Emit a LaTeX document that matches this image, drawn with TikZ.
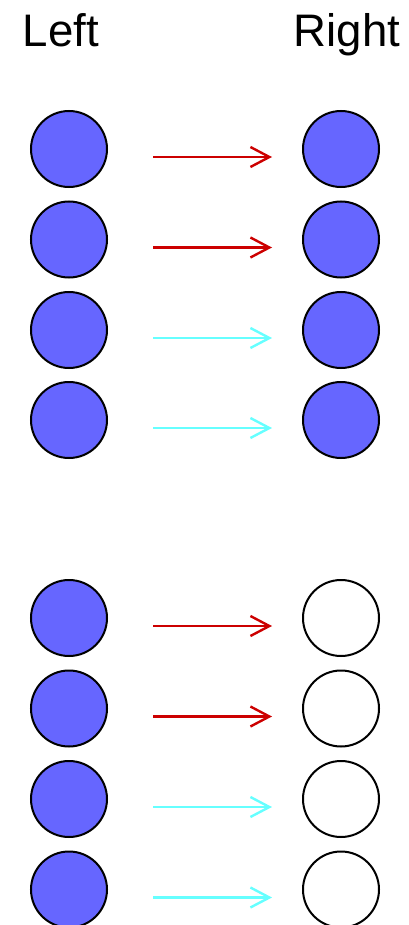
\documentclass[tikz,border=0pt]{standalone}
\usepackage{fontspec}
\setmainfont{Liberation Sans}
\usetikzlibrary{arrows.meta}
\definecolor{ballblue}{RGB}{102,102,255}
\definecolor{linkred}{RGB}{204,0,0}
\definecolor{linkcyan}{RGB}{102,255,255}
\begin{document}
\begin{tikzpicture}[x=0.5pt,y=-0.5pt,
  ball/.style={circle,draw,line width=1pt,minimum size=38pt,inner sep=0pt},
  full/.style={ball,fill=ballblue},
  empty/.style={ball,fill=white},
  link/.style={line width=1.2pt,-{Straight Barb[length=9.5pt,width=10pt]},
    shorten <=22.5pt,shorten >=15pt},
  title/.style={font=\fontsize{22.8pt}{26pt}\selectfont,anchor=base}]
  \useasboundingbox (0,0) rectangle (408,925);
  \node[title] (left) at (61,47) {Left};
  \node[title] (right) at (347,47) {Right};
  % upper group: both sides filled
  \node[full] (l1) at (69,149) {}; \node[full] (r1) at (341,149) {};
  \node[full] (l2) at (69,239.5) {}; \node[full] (r2) at (341,239.5) {};
  \node[full] (l3) at (69,330) {}; \node[full] (r3) at (341,330) {};
  \node[full] (l4) at (69,420) {}; \node[full] (r4) at (341,420) {};
  % lower group: right side empty
  \node[full] (l5) at (69,618) {}; \node[empty] (r5) at (341,618) {};
  \node[full] (l6) at (69,708.5) {}; \node[empty] (r6) at (341,708.5) {};
  \node[full] (l7) at (69,799) {}; \node[empty] (r7) at (341,799) {};
  \node[full] (l8) at (69,889.5) {}; \node[empty] (r8) at (341,889.5) {};
  \draw[link,linkred] ([yshift=-4pt]l1.east) -- ([yshift=-4pt]r1.west);
  \draw[link,linkred] ([yshift=-4pt]l2.east) -- ([yshift=-4pt]r2.west);
  \draw[link,linkcyan] ([yshift=-4pt]l3.east) -- ([yshift=-4pt]r3.west);
  \draw[link,linkcyan] ([yshift=-4pt]l4.east) -- ([yshift=-4pt]r4.west);
  \draw[link,linkred] ([yshift=-4pt]l5.east) -- ([yshift=-4pt]r5.west);
  \draw[link,linkred] ([yshift=-4pt]l6.east) -- ([yshift=-4pt]r6.west);
  \draw[link,linkcyan] ([yshift=-4pt]l7.east) -- ([yshift=-4pt]r7.west);
  \draw[link,linkcyan] ([yshift=-4pt]l8.east) -- ([yshift=-4pt]r8.west);
\end{tikzpicture}
\end{document}
